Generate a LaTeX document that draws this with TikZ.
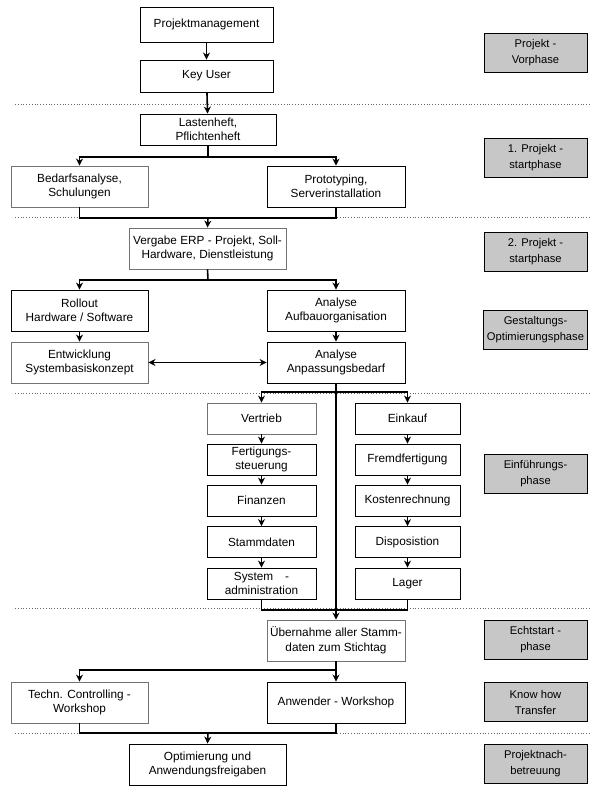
\documentclass[tikz,border=0pt]{standalone}
\usepackage{fontspec}
\setmainfont{Liberation Sans}
\usetikzlibrary{arrows.meta}
\begin{document}
\begin{tikzpicture}[x=1pt,y=-1pt,
  bx/.style={draw=black,line width=0.9pt,fill=white,align=center,inner sep=1pt,font=\fontsize{11.8}{14.5}\selectfont},
  gb/.style={bx,draw=black!55},
  ph/.style={draw=black,line width=0.9pt,fill=black!22,align=center,minimum width=103pt,minimum height=39pt,font=\fontsize{11.2}{16}\selectfont},
  ln/.style={line width=1.6pt},
  arr/.style={ln,-{Stealth[length=7pt,width=7pt]}},
  dl/.style={black!60,dotted,line width=0.8pt}]
\useasboundingbox (0,0) rectangle (603,802);
\fill[white] (0,0) rectangle (603,802);
% dotted phase separators
\foreach \yy in {104,217,393,608,733}{\draw[dl] (15,\yy) -- (590,\yy);}
% nodes
\node[bx,minimum width=133pt,minimum height=35pt] (pm) at (206.5,24.5) {Projektmanagement};
\node[bx,minimum width=133pt,minimum height=32pt] (ku) at (206.5,76) {Key User};
\node[bx,minimum width=136pt,minimum height=31pt] (last) at (208,129.5) {Lastenheft,\\Pflichtenheft};
\node[gb,minimum width=137pt,minimum height=41pt] (bed) at (79.5,186.5) {Bedarfsanalyse,\\Schulungen};
\node[bx,minimum width=138pt,minimum height=41pt] (proto) at (336,186.5) {Prototyping,\\Serverinstallation};
\node[gb,minimum width=157pt,minimum height=41pt] (verg) at (207.5,248.5) {Vergabe ERP - Projekt, Soll-\\Hardware, Dienstleistung};
\node[bx,minimum width=137pt,minimum height=41pt] (roll) at (79.5,310.5) {Rollout\\Hardware / Software};
\node[bx,minimum width=138pt,minimum height=41pt] (aufb) at (336,310.5) {Analyse\\Aufbauorganisation};
\node[gb,minimum width=137pt,minimum height=41pt] (entw) at (79.5,362.5) {Entwicklung\\Systembasiskonzept};
\node[bx,minimum width=138pt,minimum height=41pt] (anp) at (336,362.5) {Analyse\\Anpassungsbedarf};
\node[gb,minimum width=109pt,minimum height=31pt] (vert) at (261.5,418.5) {Vertrieb};
\node[bx,minimum width=109pt,minimum height=31pt] (fert) at (261.5,459.5) {Fertigungs-\\steuerung};
\node[bx,minimum width=109pt,minimum height=31pt] (fin) at (261.5,500.5) {Finanzen};
\node[bx,minimum width=109pt,minimum height=31pt] (stam) at (261.5,542) {Stammdaten};
\node[bx,minimum width=109pt,minimum height=31pt] (sys) at (261.5,583.5) {System\quad -\\administration};
\node[bx,minimum width=105pt,minimum height=31pt] (eink) at (407.5,418.5) {Einkauf};
\node[bx,minimum width=105pt,minimum height=31pt] (fremd) at (407.5,459.5) {Fremdfertigung};
\node[bx,minimum width=105pt,minimum height=31pt] (kost) at (407.5,500.5) {Kostenrechnung};
\node[bx,minimum width=105pt,minimum height=31pt] (disp) at (407.5,542) {Disposistion};
\node[bx,minimum width=105pt,minimum height=31pt] (lag) at (407.5,583.5) {Lager};
\node[gb,minimum width=138pt,minimum height=41pt] (ueb) at (336,640.5) {Übernahme aller Stamm-\\daten zum Stichtag};
\node[gb,minimum width=137pt,minimum height=41pt] (tech) at (79.5,702.5) {Techn. Controlling -\\Workshop};
\node[bx,minimum width=138pt,minimum height=41pt] (anw) at (336,702.5) {Anwender - Workshop};
\node[bx,minimum width=157pt,minimum height=41pt] (opt) at (207.5,764.5) {Optimierung und\\Anwendungsfreigaben};
% phase labels
\node[ph] (p1) at (535.5,52.5) {Projekt -\\Vorphase};
\node[ph] (p2) at (535.5,157.5) {1. Projekt -\\startphase};
\node[ph] (p3) at (535.5,251.5) {2. Projekt -\\startphase};
\node[ph] (p4) at (535.5,330) {Gestaltungs-\\Optimierungsphase};
\node[ph] (p5) at (535.5,473.5) {Einführungs-\\phase};
\node[ph] (p6) at (535.5,640) {Echtstart -\\phase};
\node[ph] (p7) at (535.5,702) {Know how\\Transfer};
\node[ph] (p8) at (535.5,764) {Projektnach-\\betreuung};
% junction coordinates
\coordinate (b0) at (208,157);
\coordinate (m1) at (208,218);
\coordinate (b5) at (208,280);
\coordinate (b1) at (336,392);
\coordinate (b2) at (336,610);
\coordinate (b3) at (336,670);
\coordinate (b4) at (208,733);
% connectors
\draw[arr] (pm) -- (ku);
\draw[arr] (ku) -- (last);
\draw[ln] (last.south) -- (b0);
\draw[arr] (b0) -| (bed.north);
\draw[arr] (b0) -| (proto.north);
\draw[ln] (bed.south) |- (m1) -| (proto.south);
\draw[arr] (m1) -- (verg.north);
\draw[ln] (verg.south) -- (b5);
\draw[arr] (b5) -| (roll.north);
\draw[arr] (b5) -| (aufb.north);
\draw[arr] (roll) -- (entw);
\draw[arr] (aufb) -- (anp);
\draw[ln,{Stealth[length=7pt,width=7pt]}-{Stealth[length=7pt,width=7pt]}] (entw) -- (anp);
\draw[arr] (anp.south) -- (ueb.north);
\draw[arr] (b1) -| (vert.north);
\draw[arr] (b1) -| (eink.north);
\draw[arr] (vert) -- (fert);
\draw[arr] (fert) -- (fin);
\draw[arr] (fin) -- (stam);
\draw[arr] (stam) -- (sys);
\draw[arr] (eink) -- (fremd);
\draw[arr] (fremd) -- (kost);
\draw[arr] (kost) -- (disp);
\draw[arr] (disp) -- (lag);
\draw[ln] (sys.south) |- (b2) -| (lag.south);
\draw[arr] (ueb.south) -- (anw.north);
\draw[arr] (b3) -| (tech.north);
\draw[ln] (tech.south) |- (b4) -| (anw.south);
\draw[arr] (b4) -- (opt.north);
\end{tikzpicture}
\end{document}
